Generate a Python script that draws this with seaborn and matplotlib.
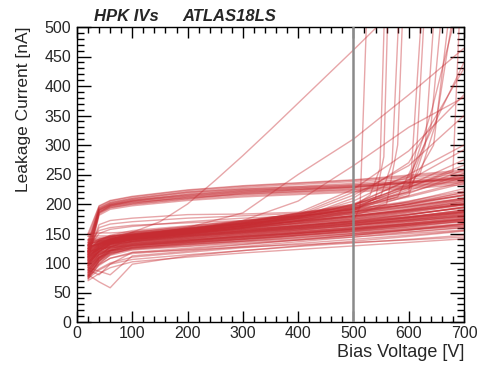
import numpy as np
import pandas as pd
import matplotlib
matplotlib.use("Agg")
import matplotlib.pyplot as plt
import seaborn as sns
from matplotlib.ticker import MultipleLocator

# ---------------- data ----------------
VOLTS = [20, 40, 60, 100, 200, 300, 400, 500, 600, 700]

MAIN_CURVES = [
    [74, 100, 113, 122, 128, 134, 139, 144, 150, 156],
    [96, 110, 117, 123, 131, 138, 146, 153, 161, 171],
    [80, 104, 116, 124, 129, 136, 141, 147, 153, 160],
    [110, 118, 121, 125, 133, 140, 147, 155, 164, 175],
    [85, 107, 118, 126, 134, 141, 148, 154, 160, 167],
    [100, 114, 121, 127, 132, 137, 143, 150, 158, 166],
    [78, 103, 117, 128, 137, 146, 153, 161, 170, 181],
    [120, 124, 126, 129, 135, 141, 147, 152, 158, 164],
    [90, 110, 121, 130, 138, 145, 151, 158, 167, 178],
    [105, 118, 125, 131, 137, 143, 150, 157, 165, 174],
    [82, 106, 120, 132, 139, 145, 152, 160, 169, 180],
    [115, 123, 128, 133, 141, 149, 156, 164, 173, 184],
    [93, 114, 125, 134, 140, 146, 153, 159, 166, 173],
    [128, 131, 133, 135, 142, 150, 158, 167, 177, 190],
    [76, 104, 121, 136, 143, 150, 156, 163, 171, 179],
    [102, 120, 130, 137, 144, 152, 160, 168, 178, 190],
    [140, 138, 137, 138, 145, 151, 158, 165, 173, 182],
    [88, 112, 127, 139, 146, 153, 161, 170, 181, 195],
    [112, 126, 133, 140, 147, 154, 161, 168, 176, 185],
    [98, 118, 131, 141, 149, 157, 165, 174, 185, 198],
    [125, 133, 137, 142, 149, 156, 164, 172, 182, 194],
    [84, 110, 128, 143, 150, 157, 163, 170, 178, 187],
    [132, 137, 140, 144, 152, 160, 168, 177, 188, 201],
    [106, 124, 135, 145, 153, 161, 170, 180, 192, 207],
    [118, 131, 138, 146, 153, 160, 167, 174, 183, 193],
    [92, 116, 132, 147, 155, 163, 171, 180, 191, 204],
    [145, 146, 146, 148, 156, 164, 173, 183, 195, 210],
    [108, 127, 139, 149, 157, 165, 172, 180, 189, 199],
    [130, 140, 145, 150, 158, 166, 175, 186, 199, 215],
    [100, 123, 139, 152, 160, 168, 176, 185, 196, 209],
    [150, 151, 151, 153, 161, 170, 179, 190, 203, 219],
    [122, 138, 147, 155, 163, 171, 180, 191, 205, 222],
    [79, 102, 115, 125, 131, 137, 143, 149, 156, 163],
    [88, 108, 119, 127, 135, 143, 150, 158, 167, 177],
    [103, 115, 122, 129, 136, 142, 149, 156, 164, 173],
    [118, 124, 127, 131, 139, 147, 155, 163, 172, 183],
    [86, 109, 122, 133, 139, 145, 151, 157, 164, 172],
    [95, 115, 127, 136, 144, 152, 159, 167, 176, 187],
    [135, 136, 137, 139, 146, 153, 160, 168, 177, 187],
    [110, 124, 133, 140, 148, 155, 163, 172, 182, 194],
    [81, 108, 126, 142, 148, 154, 160, 166, 173, 181],
    [124, 134, 139, 144, 151, 158, 166, 175, 186, 199],
    [97, 119, 134, 146, 154, 162, 170, 179, 190, 203],
    [140, 143, 145, 148, 155, 162, 170, 178, 188, 199],
    [114, 130, 140, 150, 158, 166, 174, 183, 194, 207],
    [72, 98, 114, 126, 133, 140, 147, 154, 162, 171],
    [90, 110, 121, 130, 137, 144, 151, 158, 166, 175],
    [106, 120, 128, 134, 141, 148, 156, 164, 174, 186],
    [128, 133, 135, 137, 144, 151, 158, 166, 175, 185],
    [84, 107, 123, 138, 146, 154, 162, 171, 182, 195],
    [116, 128, 135, 141, 148, 155, 162, 170, 179, 189],
    [99, 120, 133, 143, 151, 159, 168, 178, 190, 205],
    [138, 141, 143, 145, 152, 159, 167, 176, 187, 200],
    [108, 126, 137, 147, 155, 163, 171, 180, 190, 201],
    [126, 137, 144, 151, 159, 167, 176, 187, 200, 216],
    [77, 104, 119, 130, 135, 140, 145, 150, 156, 162],
    [93, 113, 124, 132, 138, 144, 150, 156, 163, 170],
    [112, 124, 131, 136, 142, 148, 154, 160, 167, 175],
    [101, 120, 131, 140, 146, 152, 158, 164, 171, 179],
    [120, 132, 139, 145, 151, 157, 163, 170, 178, 187],
    [70, 82, 92, 102, 110, 117, 123, 129, 135, 141],
    [74, 88, 98, 106, 114, 121, 128, 134, 140, 147],
    [80, 68, 58, 98, 112, 121, 129, 137, 145, 154],
    [78, 90, 100, 110, 118, 126, 133, 140, 147, 155],
    [92, 86, 80, 112, 120, 128, 136, 144, 152, 160],
    [83, 98, 108, 116, 123, 131, 139, 147, 156, 166],
    [88, 80, 98, 118, 125, 132, 139, 147, 156, 166],
    [76, 96, 108, 118, 122, 127, 131, 135, 139, 144],
    [95, 120, 132, 140, 150, 160, 172, 186, 204, 226],
    [105, 126, 136, 144, 154, 165, 178, 193, 212, 235],
    [115, 132, 140, 148, 158, 170, 184, 200, 220, 245],
    [88, 115, 128, 137, 148, 159, 171, 184, 200, 220],
    [132, 140, 146, 152, 162, 172, 183, 196, 214, 238],
    [120, 160, 166, 170, 176, 180, 184, 190, 198, 210],
    [115, 165, 172, 176, 182, 183, 186, 193, 202, 215],
    [125, 150, 157, 162, 170, 176, 180, 187, 196, 208],
    [130, 155, 160, 164, 168, 172, 178, 188, 200, 214],
]

UPPER_CURVES = [
    [108, 183, 194, 199, 208, 214, 218, 222, 228, 236],
    [112, 186, 196, 202, 211, 217, 221, 225, 231, 239],
    [118, 188, 198, 204, 214, 221, 225, 229, 235, 243],
    [125, 190, 199, 206, 217, 224, 228, 232, 239, 248],
    [130, 192, 201, 208, 219, 226, 230, 235, 242, 251],
    [138, 194, 203, 210, 221, 228, 233, 238, 245, 254],
    [145, 196, 205, 212, 223, 230, 235, 240, 247, 256],
    [104, 181, 191, 197, 206, 212, 216, 220, 226, 233],
    [115, 187, 195, 201, 212, 219, 224, 228, 236, 245],
    [122, 189, 197, 203, 210, 216, 220, 224, 230, 238],
    [128, 191, 200, 207, 215, 222, 227, 231, 237, 244],
    [135, 193, 202, 209, 220, 225, 229, 233, 238, 246],
    [110, 185, 193, 200, 209, 218, 222, 227, 233, 241],
    [150, 197, 206, 213, 224, 231, 236, 241, 249, 258],
    [120, 185, 197, 205, 216, 223, 226, 230, 236, 242],
    [132, 190, 199, 205, 213, 220, 224, 229, 236, 245],
]

SOFT_CURVES = [
    [115, 131, 139, 145, 160, 185, 250, 310, 385, 464],
    [108, 128, 137, 143, 155, 172, 205, 265, 330, 381],
    [120, 133, 140, 146, 156, 168, 185, 225, 290, 385],
    [100, 124, 134, 141, 151, 163, 180, 215, 265, 350],
    [125, 136, 142, 147, 157, 167, 178, 205, 250, 300],
    [112, 129, 137, 143, 153, 164, 176, 200, 240, 292],
    [130, 138, 143, 148, 158, 169, 181, 198, 232, 275],
    [104, 126, 135, 142, 152, 162, 174, 195, 228, 266],
    [118, 132, 139, 145, 155, 166, 178, 192, 222, 258],
    [96, 121, 132, 140, 150, 160, 172, 190, 218, 252],
    [110, 128, 136, 142, 152, 163, 176, 210, 270, 430],
    [122, 134, 141, 146, 156, 168, 182, 220, 245, 440],
]

# breakdown sensors: common part up to 500 V, then individual tail
BD_BASE_V = [20, 40, 60, 100, 200, 300, 400, 500]
BD_BASE_I = [
    [95, 120, 130, 137, 146, 155, 163, 172],
    [120, 134, 141, 147, 157, 168, 181, 196],
    [110, 129, 137, 144, 153, 163, 175, 188],
    [130, 137, 142, 148, 158, 170, 183, 197],
    [100, 123, 133, 140, 149, 158, 168, 180],
    [115, 130, 138, 145, 155, 166, 179, 192],
    [125, 135, 141, 146, 156, 167, 180, 194],
    [105, 125, 134, 141, 150, 160, 172, 186],
    [135, 140, 144, 149, 159, 171, 184, 199],
    [112, 128, 136, 143, 153, 164, 177, 191],
    [122, 134, 140, 146, 156, 168, 182, 198],
    [102, 124, 134, 141, 151, 162, 176, 192],
    [118, 131, 138, 144, 154, 166, 179, 195],
]
BD_TAIL_V = [
    [512, 524],
    [530, 548, 556],
    [540, 555, 562],
    [550, 570, 582],
    [560, 580, 589],
    [580, 605, 623],
    [600, 615, 628],
    [600, 630, 646],
    [600, 640, 659],
    [600, 645, 673],
    [620, 650, 680],
    [600, 642, 685],
    [600, 680, 692],
]
BD_TAIL_I = [
    [195, 520],
    [215, 260, 520],
    [210, 280, 520],
    [215, 270, 520],
    [200, 300, 520],
    [212, 260, 520],
    [220, 300, 520],
    [214, 300, 520],
    [230, 330, 520],
    [225, 300, 520],
    [250, 340, 520],
    [235, 360, 520],
    [228, 255, 520],
]

SPECIAL_V = [20, 40, 60, 100, 150, 200, 250, 300, 350, 400, 450, 500, 550]
SPECIAL_I = [120, 138, 144, 152, 170, 200, 240, 282, 326, 371, 416, 461, 507]

# ---------------- build long table ----------------
rows = []
sid = 0
for group in (MAIN_CURVES, UPPER_CURVES, SOFT_CURVES):
    for cur in group:
        for v, i in zip(VOLTS, cur):
            rows.append((sid, v, i))
        sid += 1
for base, tv, ti in zip(BD_BASE_I, BD_TAIL_V, BD_TAIL_I):
    for v, i in zip(BD_BASE_V + tv, base + ti):
        rows.append((sid, v, i))
    sid += 1
for v, i in zip(SPECIAL_V, SPECIAL_I):
    rows.append((sid, v, i))
df = pd.DataFrame(rows, columns=["sensor", "V", "I"])

# ---------------- style ----------------
sns.set_theme(style="ticks")
plt.rcParams['font.family'] = ['Liberation Sans', 'DejaVu Sans']

RED = "#c62c32"

fig = plt.figure(figsize=(4.81, 3.69), dpi=100)
ax = fig.add_axes([77 / 481, 47 / 369, 387 / 481, 295 / 369])

sns.lineplot(data=df, x="V", y="I", units="sensor", estimator=None, sort=False,
             color=RED, alpha=0.42, linewidth=1.0, ax=ax, legend=False)

ax.axvline(500, color="#8a8a8a", lw=1.8, zorder=5)

ax.set_xlim(0, 700)
ax.set_ylim(0, 500)
ax.xaxis.set_major_locator(MultipleLocator(100))
ax.xaxis.set_minor_locator(MultipleLocator(20))
ax.yaxis.set_major_locator(MultipleLocator(50))
ax.yaxis.set_minor_locator(MultipleLocator(10))
ax.tick_params(which="both", direction="in", top=True, right=True, color="black", width=1)
ax.tick_params(axis="x", which="major", length=8, pad=3, labelsize=11.5)
ax.tick_params(axis="x", which="minor", length=4)
ax.tick_params(axis="y", which="major", length=10, pad=4, labelsize=11.5)
ax.tick_params(axis="y", which="minor", length=5)
for s in ax.spines.values():
    s.set_color("black")
    s.set_linewidth(1)

ax.set_xlabel("Bias Voltage [V]", loc="right", fontsize=13, labelpad=2)
ax.set_ylabel("Leakage Current [nA]", loc="top", fontsize=12.5, labelpad=10)

fig.text(94 / 481, 1 - 21 / 369, "HPK IVs", fontsize=12, fontweight="bold",
         fontstyle="italic", ha="left", va="baseline")
fig.text(182 / 481, 1 - 21 / 369, "ATLAS18LS", fontsize=12, fontweight="bold",
         fontstyle="italic", ha="left", va="baseline")

fig.savefig("out.png", dpi=100)
